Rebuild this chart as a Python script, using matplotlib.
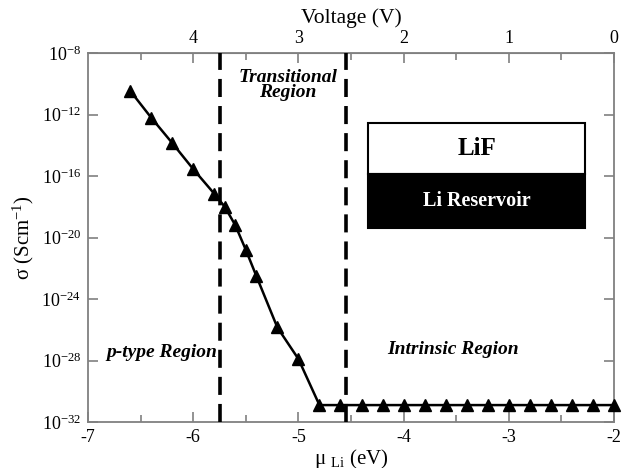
import numpy as np
import matplotlib
matplotlib.use("Agg")
import matplotlib.pyplot as plt
from matplotlib.ticker import FixedLocator, MultipleLocator, NullLocator, FuncFormatter
from matplotlib.patches import Rectangle

plt.rcParams['font.family'] = ['Liberation Serif', 'DejaVu Serif']
plt.rcParams['mathtext.fontset'] = 'custom'
plt.rcParams['mathtext.rm'] = 'Liberation Serif'
plt.rcParams['mathtext.it'] = 'Liberation Serif:italic'
plt.rcParams['mathtext.bf'] = 'Liberation Serif:bold'

# chemical potential of Li (eV) and log10 of conductivity (S/cm)
mu_li = [-6.6, -6.4, -6.2, -6.0, -5.8, -5.7, -5.6, -5.5, -5.4, -5.2, -5.0,
         -4.8, -4.6, -4.4, -4.2, -4.0, -3.8, -3.6, -3.4, -3.2, -3.0, -2.8,
         -2.6, -2.4, -2.2, -2.0]
log_sigma = [-10.45, -12.2, -13.85, -15.55, -17.15, -18.0, -19.2, -20.8, -22.5,
             -25.85, -27.9, -30.9, -30.9, -30.9, -30.9, -30.9, -30.9, -30.9,
             -30.9, -30.9, -30.9, -30.9, -30.9, -30.9, -30.9, -30.9]

# region boundaries (eV)
boundaries = [-5.75, -4.55]
voltage_ticks = [0, 1, 2, 3, 4]
y_exponents = list(range(-32, -7, 4))

gray = '#808080'

fig = plt.figure(figsize=(6.24, 4.68), dpi=100)
ax = fig.add_axes([88 / 624, 1 - 422 / 468, 526 / 624, 369 / 468])

sigma = 10.0 ** np.array(log_sigma)
ax.plot(mu_li, sigma, color='black', lw=1.8, marker='^', markersize=9,
        clip_on=False, zorder=5)

for b in boundaries:
    ax.axvline(b, color='black', lw=2.6, ls=(0, (5, 2.5)), zorder=3)

ax.set_yscale('log')
ax.set_xlim(-7, -2)
ax.set_ylim(1e-32, 1e-8)
ax.yaxis.set_major_locator(FixedLocator([10.0 ** e for e in y_exponents]))
ax.yaxis.set_major_formatter(FuncFormatter(
    lambda v, p: r'$\mathregular{10^{%d}}$' % round(np.log10(v))))
ax.yaxis.set_minor_locator(NullLocator())
ax.xaxis.set_major_locator(MultipleLocator(1))
ax.xaxis.set_minor_locator(MultipleLocator(0.5))
ax.xaxis.set_major_formatter(FuncFormatter(lambda v, p: f"{v:g}"))

for s in ax.spines.values():
    s.set_color(gray)
    s.set_linewidth(1.3)
ax.tick_params(which='both', direction='in', color=gray, width=1.2,
               labelsize=13, right=True, pad=5)
ax.tick_params(which='major', length=7)
ax.tick_params(which='minor', length=5)
ax.tick_params(axis='y', which='both', labelright=False)

top = ax.secondary_xaxis('top', functions=(lambda m: -m - 2, lambda v: -v - 2))
top.xaxis.set_major_locator(FixedLocator(voltage_ticks))
top.xaxis.set_minor_locator(FixedLocator([v + 0.5 for v in voltage_ticks]))
top.xaxis.set_major_formatter(FuncFormatter(lambda v, p: f"{v:g}"))
top.tick_params(which='both', direction='in', color=gray, width=1.2,
                labelsize=13, pad=4)
top.tick_params(which='major', length=7)
top.tick_params(which='minor', length=5)
top.spines['top'].set_color(gray)
top.set_xlabel('Voltage (V)', fontsize=15.5, labelpad=5)

ax.set_xlabel(r'$\mathregular{\mu}$ $_{\mathregular{Li}}$ (eV)', fontsize=15, labelpad=1)
ax.set_ylabel(r'$\mathregular{\sigma}$ (Scm$^{\mathregular{-1}}$)', fontsize=15, labelpad=4)

ax.text(-5.1, 10.0 ** -10.1, 'Transitional\nRegion', ha='center', va='center',
        fontsize=14, fontweight='bold', fontstyle='italic', linespacing=0.85)
ax.text(-6.3, 10.0 ** -27.5, 'p-type Region', ha='center', va='center',
        fontsize=14, fontweight='bold', fontstyle='italic')
ax.text(-3.53, 10.0 ** -27.3, 'Intrinsic Region', ha='center', va='center',
        fontsize=14, fontweight='bold', fontstyle='italic')

# LiF / Li reservoir schematic
ax.add_patch(Rectangle((0.533, 0.672), 0.412, 0.139, transform=ax.transAxes,
                       facecolor='white', edgecolor='black', lw=1.5, zorder=4))
ax.add_patch(Rectangle((0.533, 0.527), 0.412, 0.145, transform=ax.transAxes,
                       facecolor='black', edgecolor='black', lw=1.5, zorder=4))
ax.text(0.739, 0.742, 'LiF', transform=ax.transAxes, ha='center', va='center',
        fontsize=18, fontweight='bold', zorder=6)
ax.text(0.739, 0.598, 'Li Reservoir', transform=ax.transAxes, ha='center', va='center',
        fontsize=14.5, fontweight='bold', color='white', zorder=6)

fig.savefig('out.png', dpi=100)
